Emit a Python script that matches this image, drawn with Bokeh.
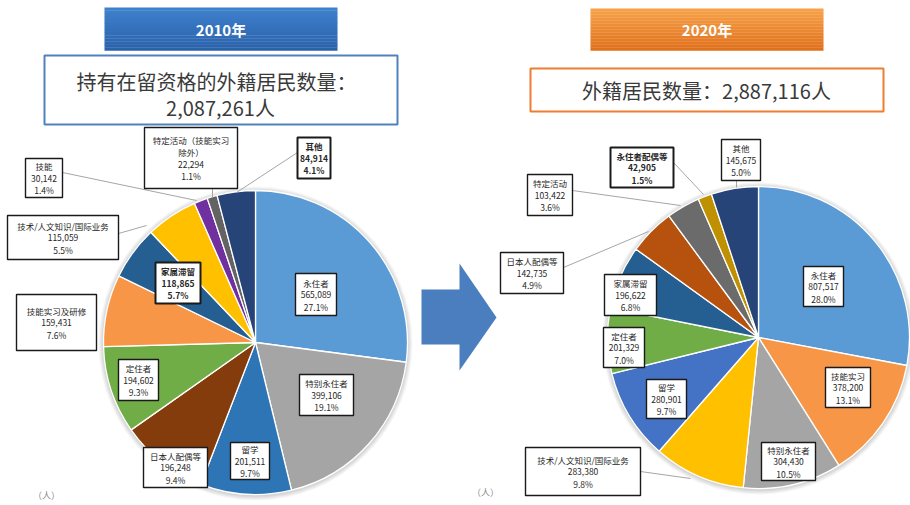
import math
from bokeh.plotting import figure
from bokeh.models import Range1d, ColumnDataSource
from bokeh.core.properties import value
from bokeh.embed import file_html
from bokeh.resources import INLINE

# ---------------- data ----------------
year_2010 = "2010年"
title_2010 = ["持有在留资格的外籍居民数量：", "2,087,261人"]
cat_2010 = ["永住者", "特别永住者", "留学", "日本人配偶等", "定住者", "技能实习及研修",
            "家属滞留", "技术/人文知识/国际业务", "技能", "特定活动（技能实习除外）", "其他"]
val_2010 = [565089, 399106, 201511, 196248, 194602, 159431, 118865, 115059, 30142, 22294, 84914]

year_2020 = "2020年"
title_2020 = ["外籍居民数量：2,887,116人"]
cat_2020 = ["永住者", "技能实习", "特别永住者", "技术/人文知识/国际业务", "留学", "定住者",
            "家属滞留", "日本人配偶等", "特定活动", "永住者配偶等", "其他"]
val_2020 = [807517, 378200, 304430, 283380, 280901, 201329, 196622, 142735, 103422, 42905, 145675]

unit_label = "（人）"

# ---------------- styles / layout ----------------
FONT = "Noto Sans CJK SC"
col_2010 = ["#5B9BD5", "#A5A5A5", "#2E75B6", "#843C0C", "#70AD47", "#F79646",
            "#255E91", "#FFC000", "#7030A0", "#636363", "#264478"]
col_2020 = ["#5B9BD5", "#F79646", "#A5A5A5", "#FFC000", "#4472C4", "#70AD47",
            "#255E91", "#B7520E", "#6B6B6B", "#BF9000", "#264478"]

W, H = 910, 505
def Y(sy):
    return 505 - sy

p = figure(width=W, height=H, output_backend="svg", toolbar_location=None,
           x_range=Range1d(0, 910), y_range=Range1d(0, 505), min_border=0)
p.axis.visible = False
p.grid.visible = False
p.outline_line_color = None
p.background_fill_color = "white"
p.border_fill_color = "white"

def lerp_col(c1, c2, t):
    a = [int(c1[i:i + 2], 16) for i in (1, 3, 5)]
    b = [int(c2[i:i + 2], 16) for i in (1, 3, 5)]
    return "#%02x%02x%02x" % tuple(int(round(a[k] + (b[k] - a[k]) * t)) for k in range(3))

def header(x0, y0, x1, y1, ctop, cbot, label):
    n = 14
    h = (y1 - y0) / n
    for i in range(n):
        p.quad(left=x0, right=x1, top=Y(y0 + i * h), bottom=Y(y0 + (i + 1) * h) - 0.3,
               fill_color=lerp_col(ctop, cbot, i / (n - 1)), line_color=None)
    p.text(x=[(x0 + x1) / 2], y=[Y((y0 + y1) / 2)], text=[label], text_font=value(FONT),
           text_font_size="15px", text_font_style="bold", text_color="white",
           text_align="center", text_baseline="middle")

header(104, 7, 337, 50, "#3F80CC", "#2A62AB", year_2010)
header(590, 8, 823, 50, "#F7A048", "#E0711C", year_2020)

# title boxes
p.quad(left=44, right=397, top=Y(55), bottom=Y(124), fill_color="white",
       line_color="#4F81BD", line_width=2)
p.text(x=[216, 220], y=[Y(81), Y(107)], text=title_2010, text_font=value(FONT),
       text_font_size="20px", text_color="#3A3A3A", text_align="center", text_baseline="middle")
p.quad(left=530, right=883, top=Y(68), bottom=Y(111), fill_color="white",
       line_color="#ED7D31", line_width=2)
p.text(x=[706], y=[Y(90)], text=title_2020, text_font=value(FONT),
       text_font_size="20px", text_color="#3A3A3A", text_align="center", text_baseline="middle")

# arrow
p.patch(x=[421, 459, 459, 496, 459, 459, 421],
        y=[Y(289), Y(289), Y(263), Y(317), Y(370), Y(344), Y(344)],
        fill_color="#4A7EBE", line_color=None)

def pie(cx, cy, r, vals, cols):
    tot = float(sum(vals))
    cum = 0.0
    st, en = [], []
    for v in vals:
        st.append(math.pi / 2 - 2 * math.pi * cum / tot)
        cum += v
        en.append(math.pi / 2 - 2 * math.pi * cum / tot)
    for k in range(1, 6):
        p.circle(x=[cx], y=[Y(cy) - 1], radius=r + k, fill_color="#000000",
                 fill_alpha=0.035, line_color=None)
    src = ColumnDataSource(dict(s=st, e=en, c=cols))
    p.wedge(x=cx, y=Y(cy), radius=r, start_angle="s", end_angle="e", direction="clock",
            fill_color="c", line_color="white", line_width=1.3, source=src)
    return tot

def labels(vals, tot, names, boxes, leaders, bold):
    for i in leaders:
        pts = leaders[i]
        p.line(x=[q[0] for q in pts], y=[Y(q[1]) for q in pts],
               line_color="#A6A6A6", line_width=1)
    for i, v in enumerate(vals):
        x0, y0, x1, y1 = boxes[i]
        isb = i in bold
        p.quad(left=x0, right=x1, top=Y(y0), bottom=Y(y1), fill_color="white",
               line_color="#1A1A1A", line_width=2 if isb else 1.4)
        nm = names[i]
        lines = nm if isinstance(nm, list) else [nm]
        lines = lines + ["{:,}".format(v), "{:.1f}%".format(100.0 * v / tot)]
        n = len(lines)
        cy = (y0 + y1) / 2
        step = 12
        ys = [Y(cy + (j - (n - 1) / 2) * step) for j in range(n)]
        p.text(x=[(x0 + x1) / 2] * n, y=ys, text=lines, text_font=value(FONT),
               text_font_size="8.5px", text_color="#262626",
               text_font_style="bold" if isb else "normal",
               text_align="center", text_baseline="middle")

tot10 = pie(255, 342, 152, val_2010, col_2010)
tot20 = pie(758, 337, 151, val_2020, col_2020)

names_2010 = list(cat_2010)
names_2010[9] = ["特定活动（技能实习", "除外）"]
boxes_2010 = [(295, 273, 336, 315), (299, 374, 353, 415), (230, 442, 269, 479),
              (143, 447, 207, 487), (118, 359, 158, 400), (16, 294, 96, 350),
              (155, 262, 200, 303), (7, 215, 118, 259), (25, 158, 62, 197),
              (144, 127, 237, 188), (297, 137, 330, 178)]
leaders_2010 = {7: [(118, 233), (146, 225)], 8: [(62, 172), (196, 200)],
                9: [(212, 188), (212, 197)], 10: [(297, 152), (236, 192)]}
labels(val_2010, tot10, names_2010, boxes_2010, leaders_2010, bold={6, 10})

boxes_2020 = [(803, 266, 843, 306), (825, 367, 870, 407), (761, 442, 815, 480),
              (525, 447, 640, 495), (646, 379, 686, 418), (603, 327, 644, 367),
              (604, 274, 656, 315), (500, 252, 563, 293), (527, 174, 572, 215),
              (610, 147, 673, 187), (721, 139, 760, 180)]
leaders_2020 = {3: [(640, 471), (690, 478)], 7: [(563, 267), (648, 231)],
                8: [(572, 190), (680, 205)], 9: [(673, 162), (703, 194)],
                10: [(736, 180), (736, 187)]}
labels(val_2020, tot20, list(cat_2020), boxes_2020, leaders_2020, bold={9})

p.text(x=[46, 485], y=[Y(495), Y(492)], text=[unit_label, unit_label], text_font=value(FONT),
       text_font_size="9px", text_color="#8C8C8C", text_align="center", text_baseline="middle")

open("out.html", "w").write(file_html(p, INLINE))
